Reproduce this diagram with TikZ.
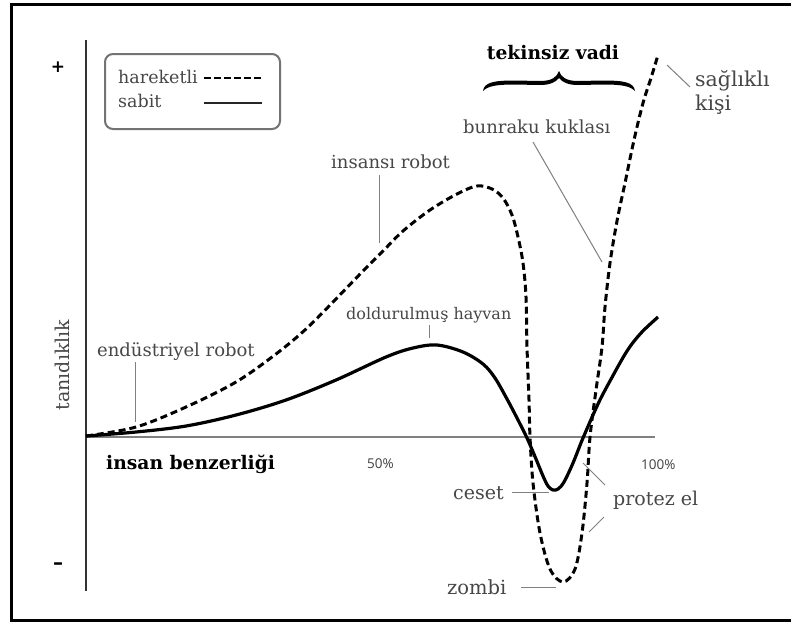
\documentclass[tikz,border=0pt]{standalone}
\usepackage{fontspec}
\setmainfont{DejaVu Serif}
\newfontfamily\numfont{Open Sans}
\newfontfamily\signfont{DejaVu Sans}
\begin{document}
\begin{tikzpicture}[x=1pt,y=-1pt,
  lbl/.style={text=black!72, inner sep=0pt, anchor=base west, font=\fontsize{18}{20}\selectfont},
  biglbl/.style={lbl, font=\fontsize{19}{21}\selectfont},
  boldlbl/.style={inner sep=0pt, anchor=base west, text=black, font=\fontsize{18.7}{21}\selectfont\bfseries},
  pct/.style={inner sep=0pt, anchor=base west, text=black!75, font=\fontsize{13.5}{15}\selectfont\numfont},
  lead/.style={draw=black!50, line width=1pt},
  moving/.style={line width=3pt, dash pattern=on 7pt off 4pt},
  still/.style={line width=3.2pt},
]
\useasboundingbox (0,0) rectangle (791,622);
\fill[white] (0,0) rectangle (791,622);
% frame
\draw[line width=3pt] (800,4.5) -- (11.5,4.5) -- (11.5,620) -- (800,620);
% axes
\coordinate (yt) at (86,40);
\coordinate (yb) at (86,591);
\coordinate (xo) at (86,437);
\coordinate (xe) at (655,437);
\draw[line width=2.6pt, black!80] (yt) -- (yb);
\draw[line width=2.6pt, black!50] (xo) -- (xe);
% plus / minus
\node[inner sep=0pt, font=\fontsize{17}{17}\selectfont\signfont\bfseries] (plus) at (58,67) {+};
\node[inner sep=0pt, font=\fontsize{20}{20}\selectfont\signfont\bfseries] (minus) at (58,566) {–};
% axis labels
\node[lbl, anchor=center, rotate=90, font=\fontsize{19}{21}\selectfont] (ylab) at (62,365) {tanıdıklık};
\node[boldlbl] (xlab) at (106,469) {insan benzerliği};
\node[pct] (p50) at (367,468) {50\%};
\node[pct] (p100) at (641,469) {100\%};
% legend
\draw[black!55, line width=2pt, rounded corners=8pt] (105,54) rectangle (280,129);
\node[lbl, font=\fontsize{17.5}{20}\selectfont] (lmov) at (118,83) {hareketli};
\node[lbl, font=\fontsize{17.5}{20}\selectfont] (lsti) at (118,107) {sabit};
\coordinate (lm1) at (204,78); \coordinate (lm2) at (262,78);
\coordinate (ls1) at (204,103); \coordinate (ls2) at (262,103);
\draw[line width=2.6pt, dash pattern=on 7pt off 3pt] (lm1) -- (lm2);
\draw[line width=1.8pt, black!85] (ls1) -- (ls2);
% curves
\draw[still, line join=round] plot[smooth, tension=0.55] coordinates {
 (86,436) (136,432) (186,426) (236,415) (286,400) (336,380) (386,357) (413,348)
 (437,345) (463,352) (483,364) (495,378) (507,399) (517,418) (527,438) (536,459)
 (543,476) (548,486) (553,490) (558,489) (564,482) (573,463) (583,438) (598,404)
 (610,381) (627,351) (641,333) (658,317)};
\draw[moving] plot[smooth, tension=0.55] coordinates {
 (86,436) (136,427) (186,407) (236,382) (276,354) (306,329) (333,302) (363,271)
 (383,251) (403,231) (430,210) (457,194) (477,186) (492,189) (503,198) (512,215)
 (518,237) (523,263) (526,297) (527,347) (529,400) (530,437) (533,483) (540,533)
 (550,569) (563,582) (575,569) (582,533) (587,483) (590,437) (596,390) (602,347)
 (605,307) (610,263) (617,221) (625,183) (634,140) (643,103) (651,78) (658,55)};
% title with brace
\node[boldlbl, anchor=base] (title) at (553,59) {tekinsiz vadi};
\fill (483,91) .. controls (484,82) and (495,80.5) .. (515,80.5) -- (540,81)
  .. controls (552,81) and (557,77) .. (559,71)
  .. controls (561,77) and (566,81) .. (578,81) -- (603,80.5)
  .. controls (623,80.5) and (634,82) .. (635,91)
  .. controls (630,86) and (622,84.5) .. (603,84.5) -- (578,85)
  .. controls (568,85) and (562,82) .. (559,78)
  .. controls (556,82) and (550,85) .. (540,85) -- (515,84.5)
  .. controls (496,84.5) and (488,86) .. (483,91) -- cycle;
% labels and leaders
\node[biglbl, align=left, font=\fontsize{20.5}{24}\selectfont] (healthy) at (695,110) {sağlıklı\\kişi};
\coordinate (h1) at (667,65); \coordinate (h2) at (690,87);
\draw[lead] (h1) -- (h2);
\node[lbl] (bunraku) at (463,133) {bunraku kuklası};
\coordinate (b1) at (533,142); \coordinate (b2) at (602,262);
\draw[lead] (b1) -- (b2);
\node[lbl] (humanoid) at (331,168) {insansı robot};
\coordinate (i1) at (379,175); \coordinate (i2) at (379,243);
\draw[lead] (i1) -- (i2);
\node[lbl, font=\fontsize{16}{18}\selectfont] (stuffed) at (346,319) {doldurulmuş hayvan};
\coordinate (d1) at (429,325); \coordinate (d2) at (429,338);
\draw[lead] (d1) -- (d2);
\node[lbl] (industrial) at (97,356) {endüstriyel robot};
\coordinate (e1) at (135,362); \coordinate (e2) at (135,422);
\draw[lead] (e1) -- (e2);
\node[biglbl] (corpse) at (453,499) {ceset};
\coordinate (c1) at (512,492); \coordinate (c2) at (549,492);
\draw[lead] (c1) -- (c2);
\node[biglbl] (hand) at (613,505) {protez el};
\coordinate (pa1) at (583,463); \coordinate (pa2) at (605,485);
\coordinate (pb1) at (604,517); \coordinate (pb2) at (589,532);
\draw[lead] (pa1) -- (pa2);
\draw[lead] (pb1) -- (pb2);
\node[biglbl, font=\fontsize{19.5}{22}\selectfont] (zombie) at (447,594) {zombi};
\coordinate (z1) at (521,587); \coordinate (z2) at (556,587);
\draw[lead] (z1) -- (z2);
\end{tikzpicture}
\end{document}
